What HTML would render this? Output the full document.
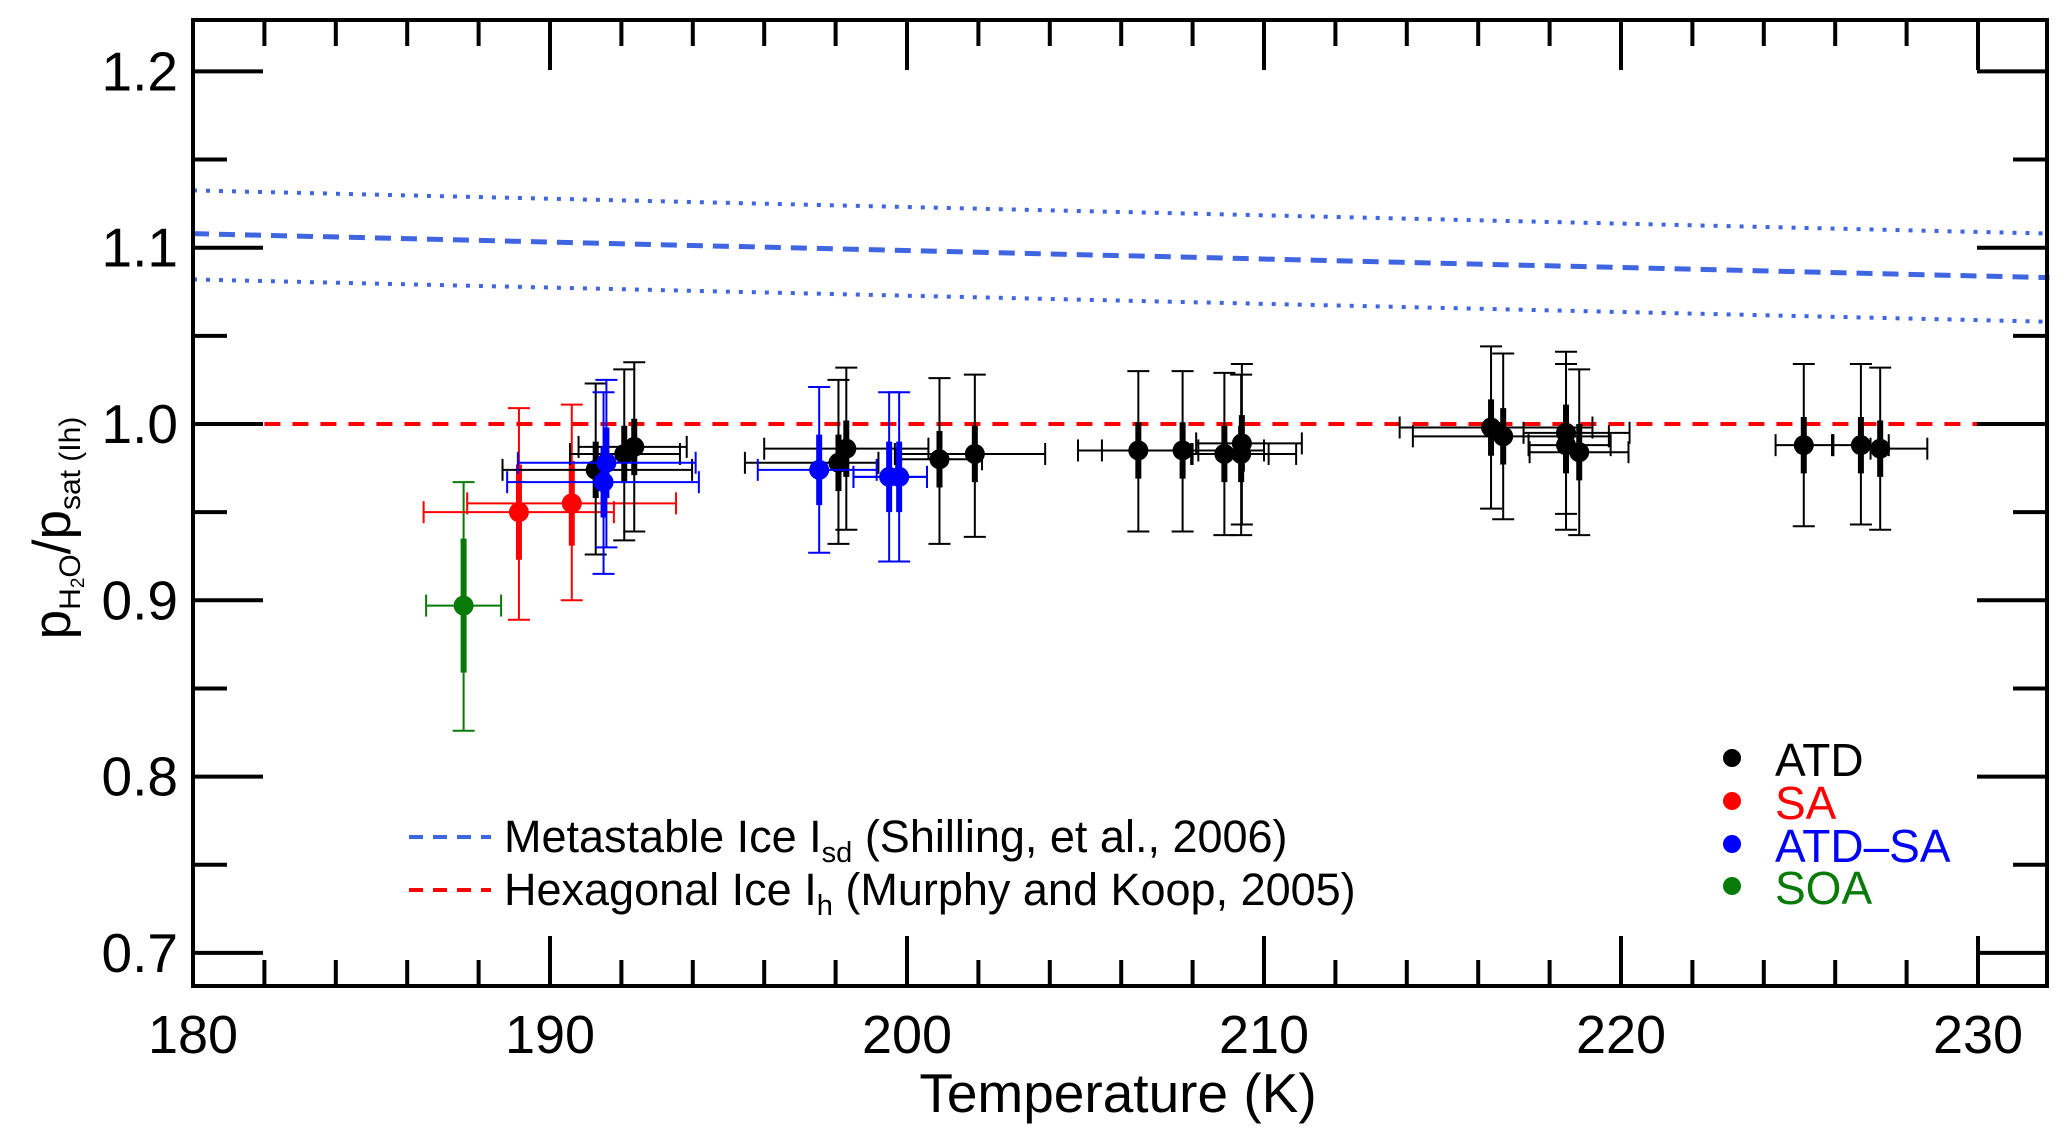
<!DOCTYPE html>
<html><head><meta charset="utf-8"><style>
html,body{margin:0;padding:0;background:#fff;}
svg{display:block;font-family:"Liberation Sans",Arial,sans-serif;}
</style></head><body>
<svg id="chart" width="2067" height="1137" viewBox="0 0 2067 1137" xmlns="http://www.w3.org/2000/svg">
<rect x="0" y="0" width="2067" height="1137" fill="#fff"/>
<g id="lines"></g>
<g id="marks"></g>
<g id="axes"></g>
<text x="1118" y="1112" font-size="55" text-anchor="middle">Temperature (K)</text>
<text transform="translate(70,528) rotate(-90)" text-anchor="middle" font-size="53">p<tspan font-size="30" dy="10">H</tspan><tspan font-size="19" dy="4">2</tspan><tspan font-size="30" dy="-4">O</tspan><tspan font-size="53" dy="-10">/p</tspan><tspan font-size="30" dy="10">sat (Ih)</tspan></text>
<g>
<line x1="409" y1="837" x2="491" y2="837" stroke="#3f66e0" stroke-width="4" stroke-dasharray="14,10"/>
<text x="504" y="852" font-size="45">Metastable Ice I<tspan font-size="29" dy="10">sd</tspan><tspan dy="-10"> (Shilling, et al., 2006)</tspan></text>
<line x1="409" y1="890" x2="491" y2="890" stroke="#ff0000" stroke-width="4" stroke-dasharray="14,10"/>
<text x="504" y="905" font-size="45">Hexagonal Ice I<tspan font-size="29" dy="10">h</tspan><tspan dy="-10"> (Murphy and Koop, 2005)</tspan></text>
</g>
<g>
<circle cx="1732" cy="758" r="9" fill="#000"/><text x="1775" y="776" font-size="46" fill="#000">ATD</text>
<circle cx="1732" cy="801" r="9" fill="#ff0000"/><text x="1775" y="819" font-size="46" fill="#ff0000">SA</text>
<circle cx="1732" cy="844" r="9" fill="#0000ff"/><text x="1775" y="862" font-size="46" fill="#0000ff">ATD–SA</text>
<circle cx="1732" cy="886" r="9" fill="#087a08"/><text x="1775" y="904" font-size="46" fill="#087a08">SOA</text>
</g>
</svg>
<script>
// ---- data ----
const xTicks = [180,190,200,210,220,230];
const yTicks = [0.7,0.8,0.9,1.0,1.1,1.2];
const yTickLabels = ["0.7","0.8","0.9","1.0","1.1","1.2"];
const metaT = [180,232];
const metaMid = [1.108,1.083];
const metaUp = [1.1325,1.108];
const metaLo = [1.082,1.058];
const hexT = [182,230];
const hexV = [1.0,1.0];

const atdT  = [191.28,192.08,192.36,198.08,198.30,200.91,201.9,206.48,207.72,208.89,209.38,209.36,216.36,216.70,218.46,218.46,218.83,225.12,226.72,227.26];
const atdV  = [0.974,0.983,0.987,0.978,0.986,0.980,0.983,0.985,0.985,0.983,0.989,0.983,0.998,0.993,0.995,0.988,0.984,0.988,0.988,0.986];
const atdTlo= [188.67,190.56,190.8,195.46,196.0,199.7,199.66,204.79,205.46,207.96,208.1,208.0,213.8,214.17,217.27,217.41,217.44,224.33,225.95,226.99];
const atdThi= [193.98,193.64,193.83,199.2,200.6,202.1,203.87,208.16,210.0,210.9,211.06,210.13,219.2,219.66,220.24,219.71,220.21,225.91,227.5,228.58];
const atdVlo= [0.926,0.934,0.939,0.932,0.940,0.932,0.936,0.939,0.939,0.937,0.943,0.937,0.952,0.946,0.949,0.940,0.937,0.942,0.943,0.940];
const atdVhi= [1.023,1.031,1.035,1.025,1.032,1.026,1.028,1.030,1.030,1.029,1.034,1.028,1.044,1.040,1.041,1.034,1.031,1.034,1.034,1.032];
const atdIn = [0.016,0.016,0.016,0.016,0.016,0.016,0.016,0.016,0.016,0.016,0.016,0.016,0.016,0.016,0.016,0.016,0.016,0.016,0.016,0.016];

const saT=[189.13,190.61], saV=[0.950,0.955], saTlo=[186.46,187.68], saThi=[191.79,193.53], saVlo=[0.889,0.900], saVhi=[1.009,1.011], saIn=[0.027,0.024];
const asT=[191.58,191.5,197.54,199.5,199.78], asV=[0.978,0.967,0.974,0.970,0.970], asTlo=[189.1,188.8,195.82,198.5,198.5], asThi=[194.08,194.17,199.15,200.56,200.56], asVlo=[0.930,0.915,0.927,0.922,0.922], asVhi=[1.025,1.018,1.021,1.018,1.018], asIn=[0.02,0.02,0.02,0.02,0.02];
const soT=[187.58], soV=[0.897], soTlo=[186.53], soThi=[188.63], soVlo=[0.826], soVhi=[0.967], soIn=[0.038];

// ---- axes functions ----
const L=193,R=2047,T0=20,B=986;
function X(t){return L+(t-180)*35.7;}
function Y(v){return 424-(v-1)*1763;}
const NS="http://www.w3.org/2000/svg";
function mk(tag,attrs,parent){const e=document.createElementNS(NS,tag);for(const k in attrs)e.setAttribute(k,attrs[k]);parent.appendChild(e);return e;}
const axes=document.getElementById('axes'), lines=document.getElementById('lines'), marks=document.getElementById('marks');

const frame=mk('rect',{x:L,y:T0,width:R-L,height:B-T0,fill:'none',stroke:'#000','stroke-width':4},axes);


// x ticks
for(let t=182;t<=231;t+=2){
  const major=(t%10===0), len=major?50:26;
  const a=mk('line',{x1:X(t),y1:B,x2:X(t),y2:B-len,stroke:'#000','stroke-width':4},axes);
  
  
  mk('line',{x1:X(t),y1:T0,x2:X(t),y2:T0+len,stroke:'#000','stroke-width':4},axes);
}
xTicks.forEach(t=>{
  const tx=mk('text',{x:X(t),y:1053,'font-size':54,'text-anchor':'middle'},axes);
  tx.textContent=String(t);
  
  
});
// y ticks
for(let i=0;i<=10;i++){
  const v=0.7+i*0.05, major=(i%2===0), len=major?70:34;
  const a=mk('line',{x1:L,y1:Y(v),x2:L+len,y2:Y(v),stroke:'#000','stroke-width':4},axes);
  
  
  mk('line',{x1:R,y1:Y(v),x2:R-len,y2:Y(v),stroke:'#000','stroke-width':4},axes);
}
yTicks.forEach((v,i)=>{
  const tx=mk('text',{x:178,y:Y(v)+19,'font-size':55,'text-anchor':'end'},axes);
  tx.textContent=yTickLabels[i];
  
  
});
// reference lines
function refLine(ts,vs,color,dash,name,w){
  const l=mk('line',{x1:X(ts[0]),y1:Y(vs[0]),x2:X(ts[1]),y2:Y(vs[1]),stroke:color,'stroke-width':w,'stroke-dasharray':dash},lines);
  
  
}
refLine(metaT,metaUp,'#3f66e0','4,9','metastable-upper-bound',4);
refLine(metaT,metaMid,'#3f66e0','16,10','metastable-ice-line',5);
refLine(metaT,metaLo,'#3f66e0','4,9','metastable-lower-bound',4);
refLine(hexT,hexV,'#ff0000','16,12','hexagonal-ice-line',4);

function series(ts,vs,tlo,thi,vlo,vhi,vin,color,name){
  const g=mk('g',{},marks);
  
  
  ts.forEach((t,i)=>{
    const x=X(t), y=Y(vs[i]), c=11;
    mk('line',{x1:X(tlo[i]),y1:y,x2:X(thi[i]),y2:y,stroke:color,'stroke-width':2},g);
    mk('line',{x1:X(tlo[i]),y1:y-c,x2:X(tlo[i]),y2:y+c,stroke:color,'stroke-width':2},g);
    mk('line',{x1:X(thi[i]),y1:y-c,x2:X(thi[i]),y2:y+c,stroke:color,'stroke-width':2},g);
    mk('line',{x1:x,y1:Y(vlo[i]),x2:x,y2:Y(vhi[i]),stroke:color,'stroke-width':2},g);
    mk('line',{x1:x-c,y1:Y(vlo[i]),x2:x+c,y2:Y(vlo[i]),stroke:color,'stroke-width':2},g);
    mk('line',{x1:x-c,y1:Y(vhi[i]),x2:x+c,y2:Y(vhi[i]),stroke:color,'stroke-width':2},g);
    mk('line',{x1:x,y1:Y(vs[i]-vin[i]),x2:x,y2:Y(vs[i]+vin[i]),stroke:color,'stroke-width':6},g);
    const p=mk('circle',{cx:x,cy:y,r:10,fill:color},g);
    
    
  });
}
series(soT,soV,soTlo,soThi,soVlo,soVhi,soIn,'#087a08','soa');
series(saT,saV,saTlo,saThi,saVlo,saVhi,saIn,'#ff0000','sa');
series(atdT,atdV,atdTlo,atdThi,atdVlo,atdVhi,atdIn,'#000000','atd');
series(asT,asV,asTlo,asThi,asVlo,asVhi,asIn,'#0000ff','atd-sa');
</script>
</body></html>
